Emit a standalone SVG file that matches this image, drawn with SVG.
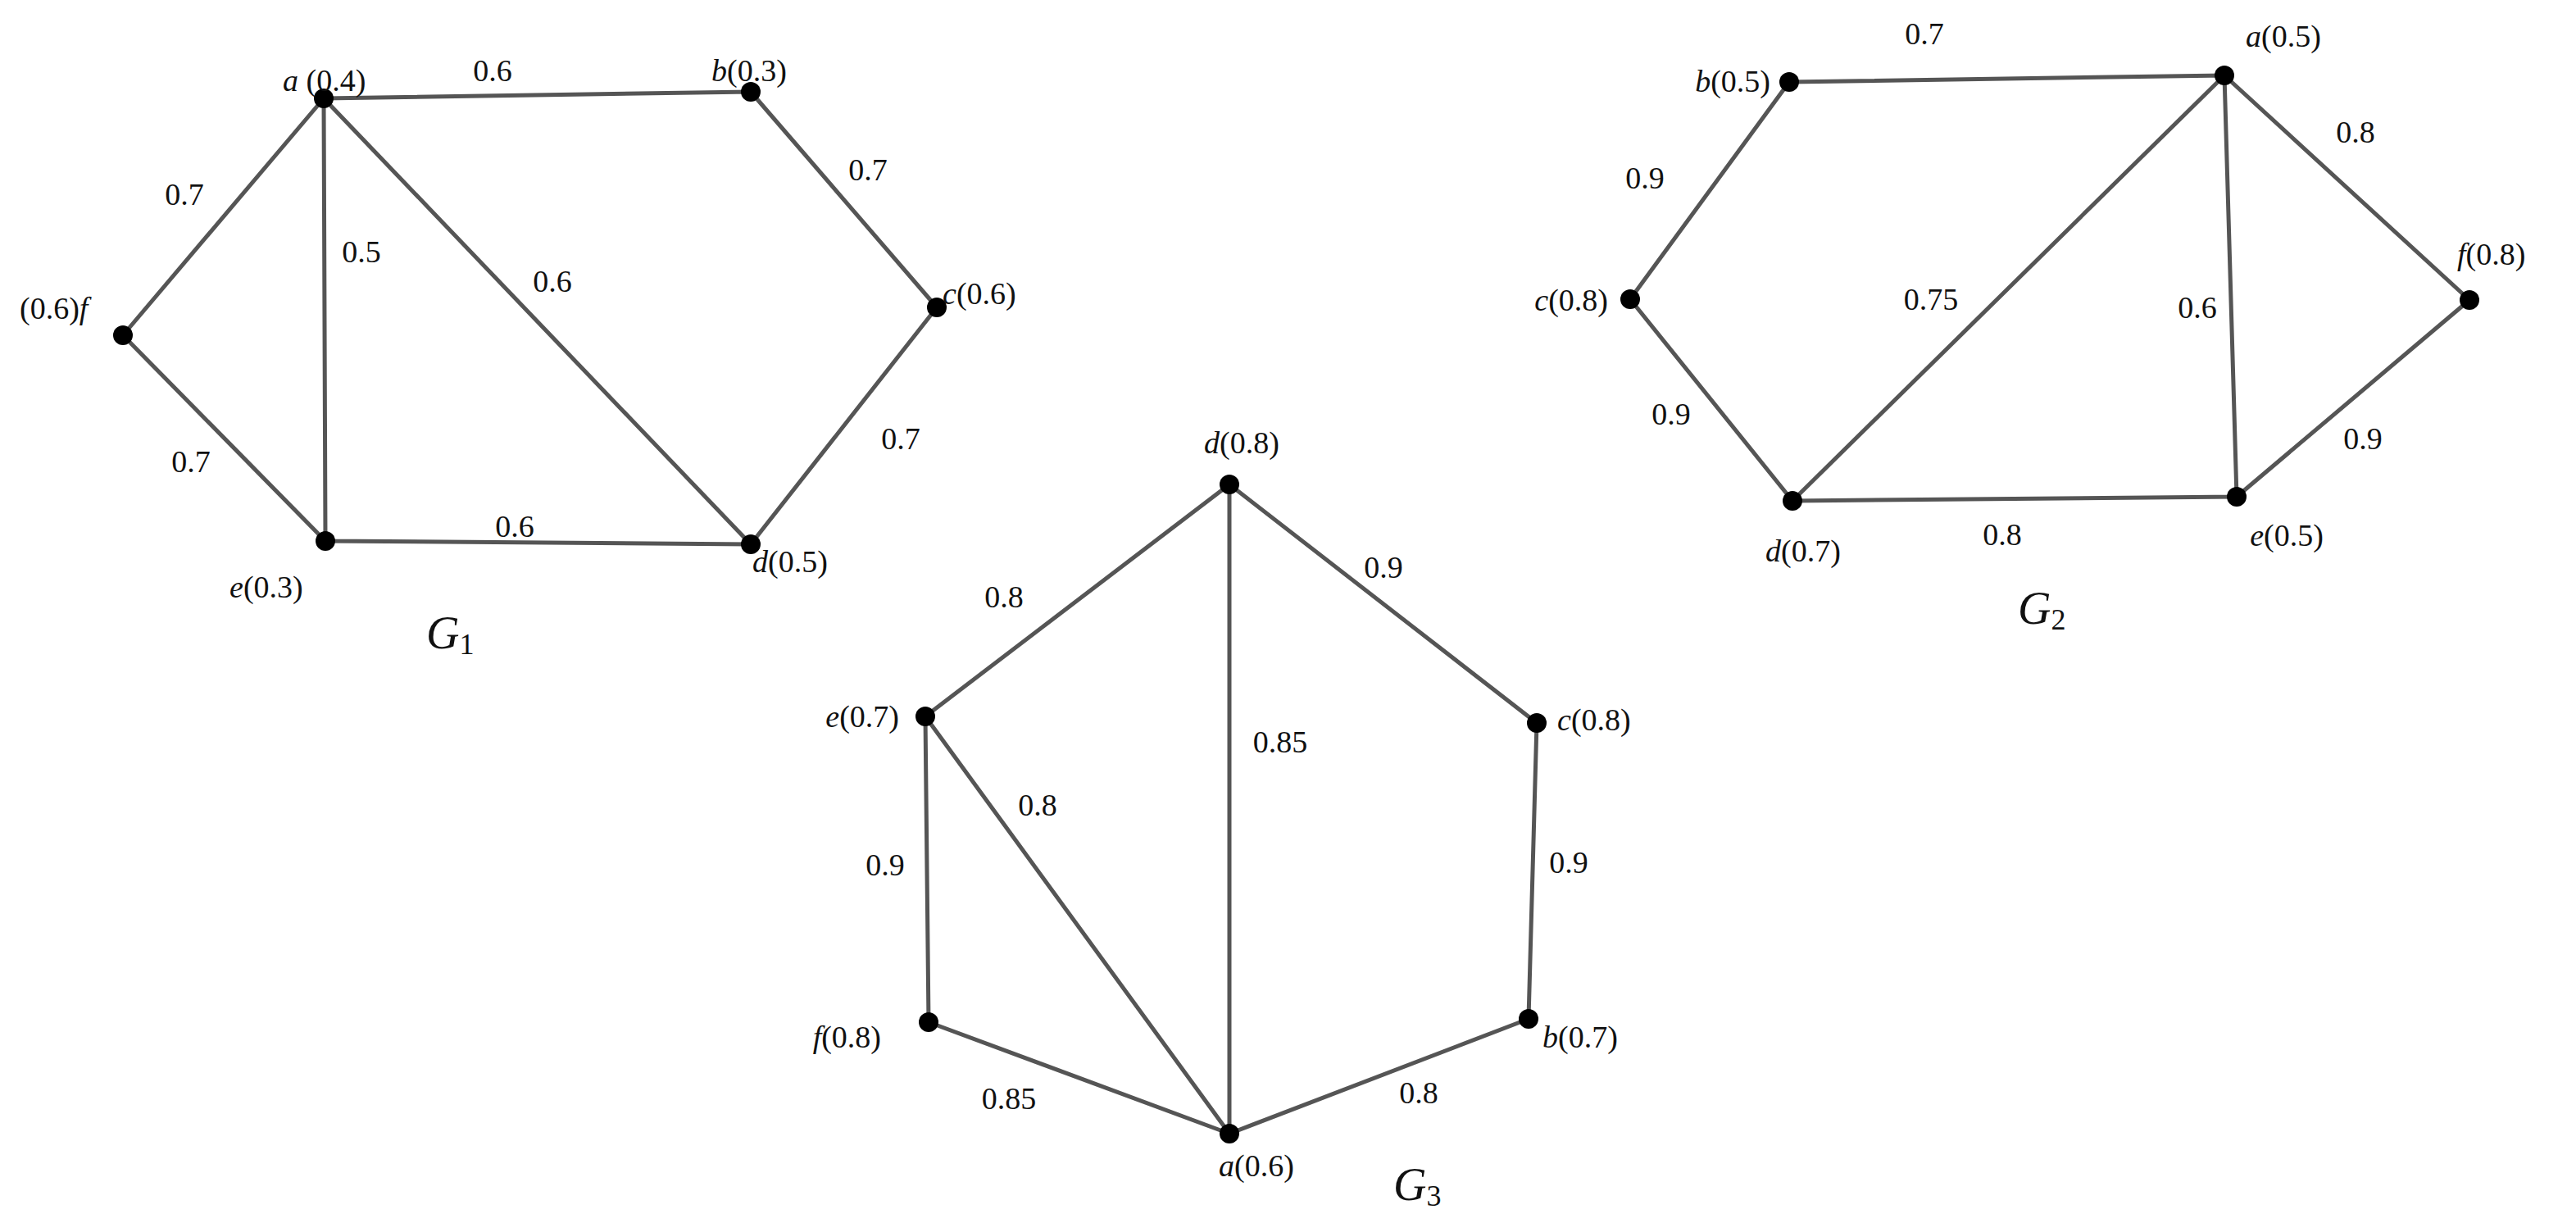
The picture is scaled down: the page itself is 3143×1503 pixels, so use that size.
<svg xmlns="http://www.w3.org/2000/svg" width="3143" height="1503" viewBox="0 0 3143 1503">
<style>
.e{stroke:#555;stroke-width:5;fill:none}
.n{fill:#000}
text{font-family:"Liberation Serif",serif;font-size:38px;fill:#111;dominant-baseline:central}
.m{text-anchor:middle}
.r{text-anchor:end}
.g{font-size:56px;font-style:italic}
.i{font-style:italic}
</style>
<rect width="3143" height="1503" fill="#fff"/>
<g id="connectors">
<path class="e" d="M395,120L916,112M916,112L1143,375M1143,375L916,664M395,120L916,664M395,120L397,660M395,120L150,409M150,409L397,660M397,660L916,664"/>
<path class="e" d="M1500,591L1129,874M1500,591L1875,882M1500,591L1500,1383M1129,874L1133,1247M1129,874L1500,1383M1133,1247L1500,1383M1875,882L1865,1243M1865,1243L1500,1383"/>
<path class="e" d="M2183,100L2714,92M2183,100L1989,365M1989,365L2187,611M2187,611L2714,92M2714,92L2729,606M2714,92L3013,366M3013,366L2729,606M2187,611L2729,606"/>
</g>
<g id="G1">
<g id="g1a"><circle class="n" cx="395" cy="120" r="12"/><text x="345" y="98"><tspan class="i">a</tspan> (0.4)</text></g>
<g id="g1b"><circle class="n" cx="916" cy="112" r="12"/><text x="868" y="86"><tspan class="i">b</tspan>(0.3)</text></g>
<g id="g1c"><circle class="n" cx="1143" cy="375" r="12"/><text x="1150" y="358"><tspan class="i">c</tspan>(0.6)</text></g>
<g id="g1d"><circle class="n" cx="916" cy="664" r="12"/><text x="918" y="685"><tspan class="i">d</tspan>(0.5)</text></g>
<g id="g1e"><circle class="n" cx="397" cy="660" r="12"/><text x="280" y="716"><tspan class="i">e</tspan>(0.3)</text></g>
<g id="g1f"><circle class="n" cx="150" cy="409" r="12"/><text x="24" y="376">(0.6)<tspan class="i">f</tspan></text></g>
<text class="m" x="601" y="86">0.6</text>
<text class="m" x="1059" y="207">0.7</text>
<text class="m" x="225" y="237">0.7</text>
<text class="m" x="441" y="307">0.5</text>
<text class="m" x="674" y="343">0.6</text>
<text class="m" x="1099" y="535">0.7</text>
<text class="m" x="233" y="563">0.7</text>
<text class="m" x="628" y="642">0.6</text>
<text class="g" x="520" y="772">G<tspan font-size="36" font-style="normal" dy="14">1</tspan></text>
</g>
<g id="G3">
<g id="g3d"><circle class="n" cx="1500" cy="591" r="12"/><text class="m" x="1515" y="540"><tspan class="i">d</tspan>(0.8)</text></g>
<g id="g3e"><circle class="n" cx="1129" cy="874" r="12"/><text class="r" x="1097" y="874"><tspan class="i">e</tspan>(0.7)</text></g>
<g id="g3c"><circle class="n" cx="1875" cy="882" r="12"/><text x="1900" y="878"><tspan class="i">c</tspan>(0.8)</text></g>
<g id="g3f"><circle class="n" cx="1133" cy="1247" r="12"/><text class="r" x="1075" y="1265"><tspan class="i">f</tspan>(0.8)</text></g>
<g id="g3b"><circle class="n" cx="1865" cy="1243" r="12"/><text x="1882" y="1265"><tspan class="i">b</tspan>(0.7)</text></g>
<g id="g3a"><circle class="n" cx="1500" cy="1383" r="12"/><text class="m" x="1533" y="1422"><tspan class="i">a</tspan>(0.6)</text></g>
<text class="m" x="1225" y="728">0.8</text>
<text class="m" x="1688" y="692">0.9</text>
<text class="m" x="1562" y="905">0.85</text>
<text class="m" x="1266" y="982">0.8</text>
<text class="m" x="1080" y="1055">0.9</text>
<text class="m" x="1914" y="1052">0.9</text>
<text class="m" x="1231" y="1340">0.85</text>
<text class="m" x="1731" y="1333">0.8</text>
<text class="g" x="1700" y="1445">G<tspan font-size="36" font-style="normal" dy="14">3</tspan></text>
</g>
<g id="G2">
<g id="g2b"><circle class="n" cx="2183" cy="100" r="12"/><text class="r" x="2160" y="99"><tspan class="i">b</tspan>(0.5)</text></g>
<g id="g2a"><circle class="n" cx="2714" cy="92" r="12"/><text x="2740" y="44"><tspan class="i">a</tspan>(0.5)</text></g>
<g id="g2c"><circle class="n" cx="1989" cy="365" r="12"/><text class="r" x="1962" y="366"><tspan class="i">c</tspan>(0.8)</text></g>
<g id="g2f"><circle class="n" cx="3013" cy="366" r="12"/><text x="2998" y="310"><tspan class="i">f</tspan>(0.8)</text></g>
<g id="g2d"><circle class="n" cx="2187" cy="611" r="12"/><text class="m" x="2200" y="672"><tspan class="i">d</tspan>(0.7)</text></g>
<g id="g2e"><circle class="n" cx="2729" cy="606" r="12"/><text class="m" x="2790" y="653"><tspan class="i">e</tspan>(0.5)</text></g>
<text class="m" x="2348" y="41">0.7</text>
<text class="m" x="2874" y="161">0.8</text>
<text class="m" x="2007" y="217">0.9</text>
<text class="m" x="2356" y="365">0.75</text>
<text class="m" x="2681" y="375">0.6</text>
<text class="m" x="2039" y="505">0.9</text>
<text class="m" x="2883" y="535">0.9</text>
<text class="m" x="2443" y="652">0.8</text>
<text class="g" x="2462" y="742">G<tspan font-size="36" font-style="normal" dy="14">2</tspan></text>
</g>
</svg>
